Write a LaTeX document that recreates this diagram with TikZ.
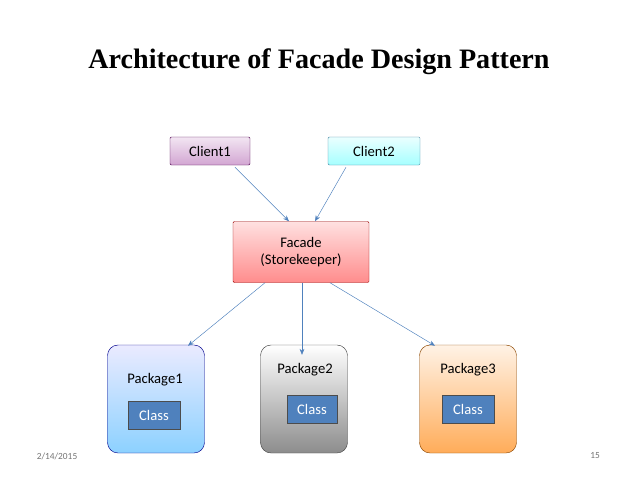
\documentclass[tikz,border=0pt]{standalone}
\usepackage{fontspec}
\setmainfont{Carlito}
\newfontfamily\titlefont{Liberation Serif}
\usetikzlibrary{positioning,arrows.meta}

\definecolor{steel}{RGB}{79,129,189}
\newlength{\pxu}\setlength{\pxu}{0.03cm}
\tikzset{
  txt/.style={font=\fontsize{12.5}{15}\selectfont},
  box/.style={draw=#1!60!black, rounded corners=1pt, inner sep=0pt, txt},
  pkg/.style={draw=#1!55!black, rounded corners=9pt, inner sep=0pt},
  classbox/.style={draw=black!70, fill=steel, text=white, txt, minimum width=52\pxu, minimum height=28\pxu},
  link/.style={draw=steel, -{Stealth[length=5pt,width=4pt]}, thin}
}

\begin{document}
\begin{tikzpicture}[x=0.03cm,y=-0.03cm]
\useasboundingbox (0,0) rectangle (638,479);
\node[font=\titlefont\bfseries\fontsize{24}{28}\selectfont] (title) at (319,62) {Architecture of Facade Design Pattern};

% clients
\node[box=violet, top color=violet!10, bottom color=violet!35, minimum width=80\pxu, minimum height=28\pxu] (client1) at (210,151) {Client1};
\node[box=cyan, top color=cyan!8, bottom color=cyan!35, minimum width=92\pxu, minimum height=28\pxu] (client2) at (374,151) {Client2};

% facade
\node[box=red, top color=red!12, bottom color=red!45, minimum width=136\pxu, minimum height=61\pxu, align=center] (facade) at (301,252) {Facade\\(Storekeeper)};

% packages
\node[pkg=blue, top color=blue!8, bottom color=blue!40!cyan!45, minimum width=97\pxu, minimum height=108\pxu] (pack1) at (156,399) {};
\node[pkg=gray, top color=white, bottom color=black!45, minimum width=87\pxu, minimum height=108\pxu] (pack2) at (304,399) {};
\node[pkg=orange, top color=orange!10, bottom color=orange!65, minimum width=97\pxu, minimum height=108\pxu] (pack3) at (468,399) {};

\node[txt] at (155,380) {Package1};
\node[txt] at (305,370) {Package2};
\node[txt] at (468,370) {Package3};

\node[classbox] (class1) at (154,415) {Class};
\node[classbox, minimum width=50\pxu] (class2) at (312,409) {Class};
\node[classbox] (class3) at (468,409) {Class};

% arrows
\draw[link] ([xshift=25\pxu,yshift=-2\pxu]client1.south) -- ([xshift=-12\pxu]facade.north);
\draw[link] ([xshift=-28\pxu,yshift=-2\pxu]client2.south) -- ([xshift=14\pxu]facade.north);
\draw[link] ([xshift=-36\pxu]facade.south) -- ([xshift=32\pxu,yshift=-1\pxu]pack1.north);
\draw[link] ([xshift=1\pxu]facade.south) -- ([xshift=-2\pxu,yshift=-10\pxu]pack2.north);
\draw[link] ([xshift=29\pxu]facade.south) -- ([xshift=-33\pxu,yshift=-1\pxu]pack3.north);

% footer
\node[font=\footnotesize, text=black!55] (date) at (57,456) {2/14/2015};
\node[font=\footnotesize, text=black!55] (page) at (595,456) {15};
\end{tikzpicture}
\end{document}
